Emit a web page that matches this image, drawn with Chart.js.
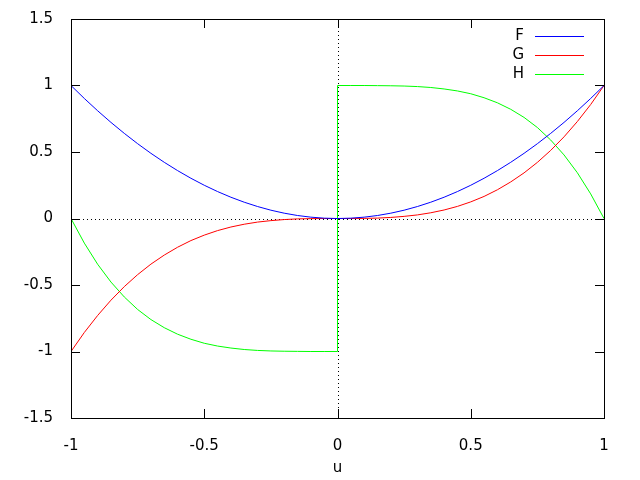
<!DOCTYPE html>
<html>
<head>
<meta charset="utf-8">
<script src="https://cdn.jsdelivr.net/npm/chart.js@4/dist/chart.umd.min.js"></script>
<style>
  html, body { margin: 0; padding: 0; background: #fff; }
  canvas { display: block; }
</style>
</head>
<body>
<canvas id="chart" width="640" height="480"></canvas>
<script>
// --- values ---
const u = [-1, -0.95, -0.9, -0.85, -0.8, -0.75, -0.7, -0.65, -0.6, -0.55, -0.5, -0.45, -0.4, -0.35, -0.3, -0.25, -0.2, -0.15, -0.1, -0.05,
  0, 0.05, 0.1, 0.15, 0.2, 0.25, 0.3, 0.35, 0.4, 0.45, 0.5, 0.55, 0.6, 0.65, 0.7, 0.75, 0.8, 0.85, 0.9, 0.95, 1];
const F = [1, 0.9025, 0.81, 0.7225, 0.64, 0.5625, 0.49, 0.4225, 0.36, 0.3025, 0.25, 0.2025, 0.16, 0.1225, 0.09, 0.0625, 0.04, 0.0225, 0.01, 0.0025,
  0, 0.0025, 0.01, 0.0225, 0.04, 0.0625, 0.09, 0.1225, 0.16, 0.2025, 0.25, 0.3025, 0.36, 0.4225, 0.49, 0.5625, 0.64, 0.7225, 0.81, 0.9025, 1];
const G = [-1, -0.857, -0.729, -0.614, -0.512, -0.422, -0.343, -0.275, -0.216, -0.166, -0.125, -0.091, -0.064, -0.043, -0.027, -0.016, -0.008, -0.003, -0.001, 0,
  0, 0, 0.001, 0.003, 0.008, 0.016, 0.027, 0.043, 0.064, 0.091, 0.125, 0.166, 0.216, 0.275, 0.343, 0.422, 0.512, 0.614, 0.729, 0.857, 1];
// H jumps at u = 0, so 0 appears twice
const uH = [-1, -0.95, -0.9, -0.85, -0.8, -0.75, -0.7, -0.65, -0.6, -0.55, -0.5, -0.45, -0.4, -0.35, -0.3, -0.25, -0.2, -0.15, -0.1, -0.05,
  0, 0, 0.05, 0.1, 0.15, 0.2, 0.25, 0.3, 0.35, 0.4, 0.45, 0.5, 0.55, 0.6, 0.65, 0.7, 0.75, 0.8, 0.85, 0.9, 0.95, 1];
const H = [0, -0.185, -0.344, -0.478, -0.59, -0.684, -0.76, -0.821, -0.87, -0.908, -0.938, -0.959, -0.974, -0.985, -0.992, -0.996, -0.998, -0.999, -1, -1,
  -1, 1, 1, 1, 0.999, 0.998, 0.996, 0.992, 0.985, 0.974, 0.959, 0.938, 0.908, 0.87, 0.821, 0.76, 0.684, 0.59, 0.478, 0.344, 0.185, 0];

const seriesNames = ["F", "G", "H"];
const seriesColors = ["#0000ff", "#ff0000", "#00ff00"];
const xTicks = [-1, -0.5, 0, 0.5, 1];
const yTicks = [-1.5, -1, -0.5, 0, 0.5, 1, 1.5];

const FONT = "DejaVu Sans";
const FSIZE = 15;
const pts = (xs, ys) => xs.map((x, i) => ({ x: x, y: ys[i] }));

// --- gnuplot-style frame: border, inward ticks, dotted zero axes, legend ---
const gnuFrame = {
  id: "gnuFrame",
  beforeDatasetsDraw(chart) {
    const { ctx, chartArea: a, scales: { x, y } } = chart;
    ctx.save();
    ctx.strokeStyle = "#000";
    ctx.lineWidth = 1;
    ctx.setLineDash([1, 3]);
    const x0 = Math.round(x.getPixelForValue(0)) + 0.5;
    const y0 = Math.round(y.getPixelForValue(0)) + 0.5;
    ctx.beginPath();
    ctx.moveTo(a.left, y0); ctx.lineTo(a.right, y0);
    ctx.moveTo(x0, a.top); ctx.lineTo(x0, a.bottom);
    ctx.stroke();
    ctx.restore();
  },
  afterDatasetsDraw(chart) {
    const { ctx, chartArea: a, scales: { x, y } } = chart;
    const tl = 9;
    ctx.save();
    ctx.strokeStyle = "#000";
    ctx.lineWidth = 1;
    ctx.beginPath();
    xTicks.forEach(v => {
      const px = Math.round(x.getPixelForValue(v)) + 0.5;
      ctx.moveTo(px, a.bottom); ctx.lineTo(px, a.bottom - tl);
      ctx.moveTo(px, a.top); ctx.lineTo(px, a.top + tl);
    });
    yTicks.forEach(v => {
      const py = Math.round(y.getPixelForValue(v)) + 0.5;
      ctx.moveTo(a.left, py); ctx.lineTo(a.left + tl, py);
      ctx.moveTo(a.right, py); ctx.lineTo(a.right - tl, py);
    });
    ctx.stroke();
    ctx.strokeRect(Math.round(a.left) + 0.5, Math.round(a.top) + 0.5,
      Math.round(a.right - a.left), Math.round(a.bottom - a.top));

    // legend
    ctx.font = FSIZE + "px '" + FONT + "'";
    ctx.textAlign = "right";
    ctx.textBaseline = "middle";
    seriesNames.forEach((name, i) => {
      const ly = 36.5 + i * 19;
      ctx.fillStyle = "#000";
      ctx.fillText(name, 524, ly);
      ctx.strokeStyle = seriesColors[i];
      ctx.beginPath();
      ctx.moveTo(535, ly); ctx.lineTo(584, ly);
      ctx.stroke();
    });
    ctx.restore();
  }
};

const seriesX = [u, u, uH];
const seriesY = [F, G, H];

new Chart(document.getElementById("chart"), {
  type: "scatter",
  data: {
    datasets: seriesNames.map((name, i) => ({
      label: name,
      data: pts(seriesX[i], seriesY[i]),
      showLine: true,
      borderColor: seriesColors[i],
      borderWidth: 1,
      pointRadius: 0,
      tension: 0,
      fill: false
    }))
  },
  options: {
    responsive: false,
    animation: false,
    devicePixelRatio: 1,
    layout: { padding: { top: 19, right: 36, left: 0, bottom: 0 } },
    plugins: { legend: { display: false }, tooltip: { enabled: false } },
    scales: {
      x: {
        type: "linear",
        min: -1, max: 1,
        afterFit: s => { s.height = 62; },
        afterBuildTicks: s => { s.ticks = xTicks.map(v => ({ value: v })); },
        grid: { display: false },
        border: { display: false },
        ticks: { color: "#000", padding: 11, font: { family: FONT, size: FSIZE }, callback: v => String(v) },
        title: { display: true, text: "u", color: "#000", padding: { top: 0, bottom: 3 }, font: { family: FONT, size: FSIZE } }
      },
      y: {
        type: "linear",
        min: -1.5, max: 1.5,
        afterFit: s => { s.width = 71; },
        afterBuildTicks: s => { s.ticks = yTicks.map(v => ({ value: v })); },
        grid: { display: false },
        border: { display: false },
        ticks: { color: "#000", padding: 10, font: { family: FONT, size: FSIZE }, callback: v => String(v) }
      }
    }
  },
  plugins: [gnuFrame]
});
</script>
</body>
</html>
